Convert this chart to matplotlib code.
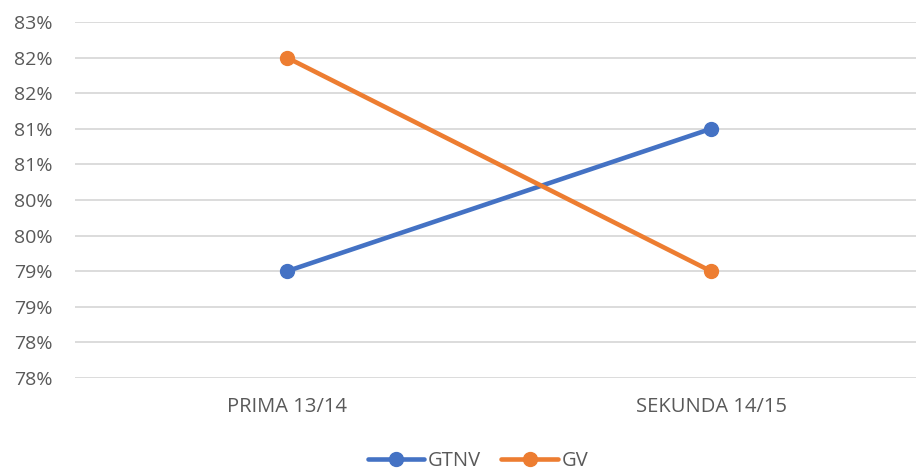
import matplotlib.pyplot as plt
from matplotlib.ticker import FuncFormatter

categories = ["PRIMA 13/14", "SEKUNDA 14/15"]
gtnv = [79.0, 81.0]
gv = [82.0, 79.0]
yticks = [77.5, 78.0, 78.5, 79.0, 79.5, 80.0, 80.5, 81.0, 81.5, 82.0, 82.5]

plt.rcParams['font.family'] = ['Open Sans', 'DejaVu Sans']
text_color = '#595959'

fig = plt.figure(figsize=(9.16, 4.73), dpi=100)
ax = fig.add_axes([75 / 916, 95 / 473, 841 / 916, 356 / 473])

x = list(range(len(categories)))
ax.plot(x, gtnv, color='#4472C4', lw=3.3, marker='o', ms=10, label='GTNV',
        solid_capstyle='round')
ax.plot(x, gv, color='#ED7D31', lw=3.3, marker='o', ms=10, label='GV',
        solid_capstyle='round')

ax.set_xlim(-0.5, (916 - 287) / 424)
ax.set_ylim(77.5, 82.5)
ax.set_yticks(yticks)
ax.yaxis.set_major_formatter(FuncFormatter(lambda v, p: f"{int(v + 0.5)}%"))
ax.set_xticks(x)
ax.set_xticklabels(categories)
ax.grid(axis='y', color='#D9D9D9', lw=1.3)
ax.set_axisbelow(True)
for s in ax.spines.values():
    s.set_visible(False)
ax.tick_params(length=0, colors=text_color)
ax.tick_params(axis='y', labelsize=14, pad=16)
ax.tick_params(axis='x', labelsize=14.5, pad=14)

leg = fig.legend(loc='center', bbox_to_anchor=(0.522, 12 / 473),
                 ncol=2, frameon=False, fontsize=14.5, handlelength=2.8,
                 columnspacing=1.0, handletextpad=0.2)
for t in leg.get_texts():
    t.set_color(text_color)

fig.savefig('out.png', dpi=100)
